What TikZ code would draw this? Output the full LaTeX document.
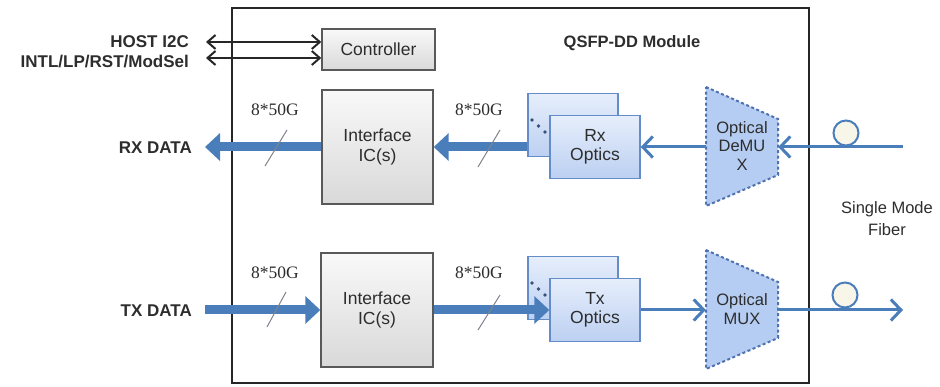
\documentclass[tikz,border=0pt]{standalone}
\usepackage{fontspec}
\setmainfont{Liberation Serif}
\setsansfont{Liberation Sans}
\usetikzlibrary{arrows.meta,calc}
\definecolor{arrowblue}{RGB}{74,126,187}
\definecolor{optborder}{RGB}{100,140,200}
\definecolor{opttop}{RGB}{230,238,251}
\definecolor{optbot}{RGB}{188,208,242}
\definecolor{muxfill}{RGB}{182,205,243}
\definecolor{muxborder}{RGB}{80,115,175}
\definecolor{txtgray}{RGB}{45,45,45}
\definecolor{slashgray}{RGB}{130,130,140}
\definecolor{loopfill}{RGB}{248,246,232}
\begin{document}
\begin{tikzpicture}[x=1pt,y=-1pt,
  lbl/.style={font=\sffamily\bfseries\fontsize{17}{18}\selectfont, text=txtgray, inner sep=0},
  boxtxt/.style={font=\sffamily\fontsize{17.5}{19.5}\selectfont, text=txtgray, align=center},
  rate/.style={font=\rmfamily\fontsize{17.5}{18}\selectfont, text=txtgray, inner sep=0},
  graybox/.style={draw=black!65, line width=1.4pt, top color=gray!5, bottom color=gray!30, inner sep=0, boxtxt},
  optbox/.style={draw=optborder, line width=1.4pt, top color=opttop, bottom color=optbot, minimum width=90pt, minimum height=63pt, inner sep=0, boxtxt},
  muxshape/.style={draw=muxborder, fill=muxfill, line width=2pt, dash pattern=on 3pt off 2.5pt},
  fatarrow/.style={draw=arrowblue, line width=9pt, -{Triangle[width=27pt,length=15pt]}},
  thinarrow/.style={draw=arrowblue, line width=3pt, -{Straight Barb[length=10pt,width=21pt,line width=3pt]}},
  ctrlarrow/.style={draw=black!85, line width=2pt, {Straight Barb[length=8pt,width=14pt,line width=2pt]}-{Straight Barb[length=8pt,width=14pt,line width=2pt]}},
  slash/.style={draw=slashgray, line width=1pt},
  dotmark/.style={fill=muxborder!70!black, draw=none}
]
\useasboundingbox (0,0) rectangle (940,387);

% module frame
\node[draw=black!85, line width=2pt, minimum width=577pt, minimum height=375pt, inner sep=0] (module) at (520.5,195.5) {};
\node[lbl, font=\sffamily\bfseries\fontsize{16.5}{18}\selectfont] (title) at (632,43) {QSFP-DD Module};

% controller
\node[graybox, minimum width=113pt, minimum height=41pt] (ctrl) at (378.5,49.5) {Controller};
\node[lbl, anchor=east] (host) at (189,42) {HOST I2C};
\node[lbl, anchor=east] (intl) at (189,62) {INTL/LP/RST/ModSel};
\coordinate (hostend) at (206,42);
\coordinate (intlend) at (206,58);
\draw[ctrlarrow] (hostend) -- (hostend -| ctrl.west);
\draw[ctrlarrow] (intlend) -- (intlend -| ctrl.west);

% RX row
\node[graybox, minimum width=111pt, minimum height=114pt] (rxic) at (377.5,147) {Interface\\IC(s)};
\node[optbox] (rxback) at (573,125) {};
\fill[dotmark] (532,120) circle (1.8pt) (538.5,126) circle (1.8pt) (545,132) circle (1.8pt);
\node[lbl, anchor=east] (rxdata) at (192,148) {RX DATA};
\coordinate (rxout) at (205,147);
\node[inner sep=0, minimum width=72pt, minimum height=56pt] (demux) at (742,147) {};
\draw[muxshape] (706,87) -- (778,119) -- (778,175) -- (706,206) -- cycle;
\node[boxtxt, font=\sffamily\fontsize{16.5}{18.5}\selectfont] (demuxtxt) at (742,146) {Optical\\DeMU\\X};
\draw[fatarrow] (rxback.west |- rxic.east) -- (rxic.east);
\node[optbox] (rxopt) at (595,147) {Rx\\Optics};
\draw[fatarrow] (rxic.west) -- (rxout);
\draw[thinarrow] (demux.west) -- (rxopt.east);
\coordinate (rxfib) at (903,147);
\draw[thinarrow] (rxfib) -- (demux.east);
\node[draw=arrowblue, line width=2pt, fill=loopfill, circle, minimum size=25pt, inner sep=0] (rxloop) at (846,133) {};
\node[rate] (rl) at (275,110) {8*50G};
\node[rate] (rr) at (479,110) {8*50G};
\draw[slash] (265,166) -- (287,130);
\draw[slash] (478,167) -- (500,130);

% TX row
\node[graybox, minimum width=112pt, minimum height=114pt] (txic) at (377,310) {Interface\\IC(s)};
\node[optbox] (txback) at (573,288) {};
\fill[dotmark] (532,283) circle (1.8pt) (538.5,289) circle (1.8pt) (545,295) circle (1.8pt);
\node[lbl, anchor=east] (txdata) at (192,311) {TX DATA};
\coordinate (txin) at (205,310);
\draw[fatarrow] (txin) -- (txic.west);
\node[inner sep=0, minimum width=72pt, minimum height=56pt] (mux) at (742,310) {};
\draw[muxshape] (706,250) -- (778,282) -- (778,338) -- (706,369) -- cycle;
\node[boxtxt, font=\sffamily\fontsize{16.5}{18.5}\selectfont] (muxtxt) at (742,309) {Optical\\MUX};
\node[optbox] (txopt) at (595,310) {Tx\\Optics};
\draw[fatarrow] (txic.east) -- (txopt.west);
\draw[thinarrow] (txopt.east) -- (mux.west);
\coordinate (txfib) at (903,310);
\draw[thinarrow] (mux.east) -- (txfib);
\node[draw=arrowblue, line width=2pt, fill=loopfill, circle, minimum size=25pt, inner sep=0] (txloop) at (845,295) {};
\node[rate] (tl) at (275,273) {8*50G};
\node[rate] (tr) at (479,273) {8*50G};
\draw[slash] (267,327) -- (286,292);
\draw[slash] (478,330) -- (500,295);

% fiber label
\node[boxtxt, font=\sffamily\fontsize{16.5}{22}\selectfont] (smf) at (887,219) {Single Mode\\Fiber};
\end{tikzpicture}
\end{document}
